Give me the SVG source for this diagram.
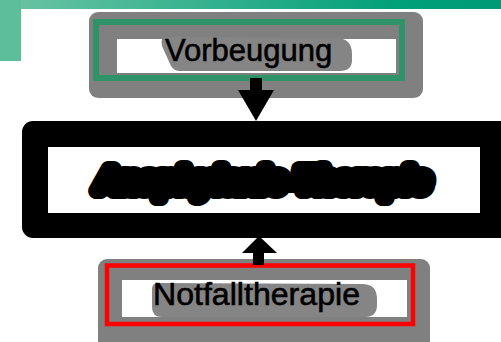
<svg xmlns="http://www.w3.org/2000/svg" width="501" height="342" viewBox="0 0 501 342">
  <style>
    .lbl { font-family: "Liberation Sans", Arial, sans-serif; font-size: 31px; fill: #000; stroke: #000; stroke-width: 0.6; }
    .main { font-family: "Liberation Sans", Arial, sans-serif; font-size: 32px; font-weight: bold; font-style: italic; fill: #000; stroke: #000; stroke-width: 16; stroke-linejoin: round; paint-order: stroke; }
    .plate { fill: #808080; }
    .blob { fill: #858585; }
    .arrow { fill: #000; }
  </style>
  <defs>
    <linearGradient id="bar" x1="0" y1="0" x2="1" y2="0">
      <stop offset="0" stop-color="#6cc4a4"/>
      <stop offset="0.8" stop-color="#00a079"/>
      <stop offset="1" stop-color="#009a76"/>
    </linearGradient>
  </defs>
  <rect width="501" height="342" fill="#fff"/>
  <g id="header">
    <rect x="0" y="0" width="501" height="9" fill="url(#bar)"/>
    <rect x="0" y="0" width="21" height="61" fill="#5dbe9c"/>
  </g>
  <g id="node-vorbeugung">
    <rect class="plate" x="89" y="12" width="334" height="86" rx="9"/>
    <rect x="96" y="22" width="306" height="56" fill="none" stroke="#2f936a" stroke-width="6"/>
    <rect x="117" y="39" width="279" height="34" fill="#fff"/>
    <path class="blob" d="M166,37 L336,38 Q352,38 352,54 L352,60 Q352,71 340,71 L180,71 Q174,71 171,66 L162,46 Q160,37 166,37 Z"/>
    <text class="lbl" x="165" y="61">Vorbeugung</text>
  </g>
  <g id="node-therapie">
    <rect x="22" y="121" width="490" height="117" rx="11" fill="#000"/>
    <rect x="48" y="147" width="432" height="66" fill="#fff"/>
    <text class="main" x="263" y="191" text-anchor="middle">Anaphylaxie-Therapie</text>
  </g>
  <g id="node-notfall">
    <rect class="plate" x="98" y="259" width="332" height="95" rx="9"/>
    <rect x="107" y="265.5" width="306" height="58.5" fill="none" stroke="#ff0000" stroke-width="4.5"/>
    <rect x="122" y="280" width="285" height="37" fill="#fff"/>
    <path class="blob" d="M158,283 L362,284 Q377,284 377,299 L377,305 Q377,317 365,317 L162,317 Q152,317 152,307 L152,289 Q152,283 158,283 Z"/>
    <text class="lbl" x="153" y="305" textLength="207" lengthAdjust="spacingAndGlyphs">Notfalltherapie</text>
  </g>
  <g id="connectors">
    <rect class="arrow" x="250" y="78" width="12" height="13"/>
    <polygon class="arrow" points="238,90 274,90 256,121"/>
    <rect class="arrow" x="253" y="252" width="11" height="13"/>
    <polygon class="arrow" points="242,253 277,253 259,236"/>
  </g>
</svg>
